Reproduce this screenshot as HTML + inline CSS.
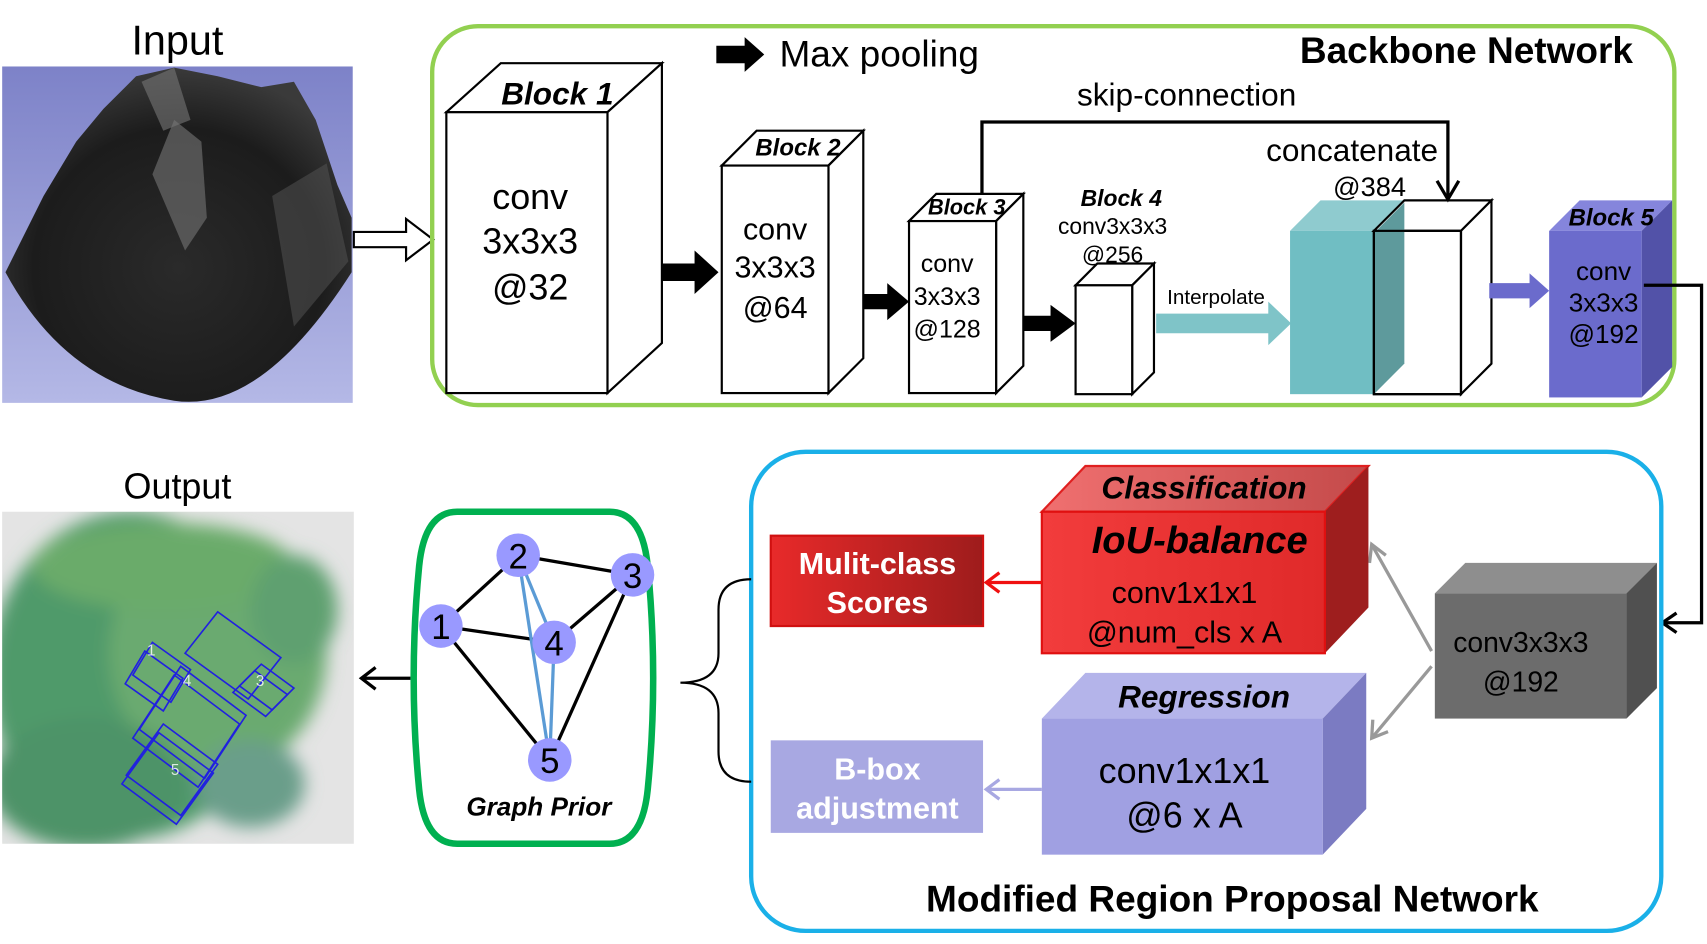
<!DOCTYPE html>
<html><head><meta charset="utf-8">
<style>html,body{margin:0;padding:0;background:#fff;}svg{display:block;}
text{font-family:"Liberation Sans",Arial,sans-serif;}</style></head>
<body>
<svg width="1707" height="944" viewBox="0 0 1568 867" xmlns="http://www.w3.org/2000/svg">
<defs>
<linearGradient id="bgin" x1="0" y1="0" x2="0" y2="1"><stop offset="0" stop-color="#7d82c8"/><stop offset="1" stop-color="#b4b8e6"/></linearGradient>
<linearGradient id="redf" x1="0" y1="0" x2="1" y2="0"><stop offset="0" stop-color="#e82a2a"/><stop offset="1" stop-color="#9e1c1c"/></linearGradient>
<linearGradient id="redtop" x1="0" y1="0" x2="1" y2="0"><stop offset="0" stop-color="#f07070"/><stop offset="1" stop-color="#c44a4a"/></linearGradient>
<linearGradient id="redfront" x1="0" y1="0" x2="1" y2="0"><stop offset="0" stop-color="#f23c3c"/><stop offset="1" stop-color="#e02a2a"/></linearGradient>
<radialGradient id="dark" cx="0.5" cy="0.6" r="0.6"><stop offset="0" stop-color="#2a2a2a"/><stop offset="0.7" stop-color="#1c1c1c"/><stop offset="1" stop-color="#3a3a3a"/></radialGradient>
<filter id="blur"><feGaussianBlur stdDeviation="8"/></filter>
<clipPath id="outclip"><rect x="2" y="470" width="323" height="305"/></clipPath>
</defs>

<!-- Input -->
<text x="163" y="50" font-size="38" text-anchor="middle">Input</text>
<rect x="2" y="61" width="322" height="309" fill="url(#bgin)"/>
<path d="M5,250 L40,180 L70,130 L95,100 L125,70 L160,62 L200,70 L240,80 L270,75 L290,110 L310,170 L323,200 L323,250 Q240,380 160,368 Q60,352 5,250 Z" fill="url(#dark)"/>
<path d="M140,160 L160,110 L185,130 L190,200 L170,230 Z" fill="#6a6a6a" opacity="0.7"/>
<path d="M130,75 L160,62 L175,110 L150,120 Z" fill="#777" opacity="0.6"/>
<path d="M250,180 L300,150 L320,240 L270,300 Z" fill="#555" opacity="0.5"/>

<!-- hollow arrow -->
<path d="M325,213 L373,213 L373,201 L398,220 L373,239 L373,227 L325,227 Z" fill="#fff" stroke="#000" stroke-width="2"/>

<!-- Backbone -->
<rect x="397" y="24" width="1141" height="348" rx="42" fill="none" stroke="#92d050" stroke-width="4"/>
<path d="M658,42 L684,42 L684,34 L702,50 L684,66 L684,58 L658,58 Z" fill="#000"/>
<text x="716" y="61" font-size="34">Max pooling</text>
<text x="1500" y="58" font-size="34" font-weight="bold" text-anchor="end">Backbone Network</text>

<g stroke="#000" stroke-width="2" fill="#fff">
<path d="M410,103 L460,58 L608,58 L558,103 Z"/><path d="M558,103 L608,58 L608,315 L558,361 Z"/><rect x="410" y="103" width="148" height="258"/>
<path d="M663,152 L695,120 L793,120 L761,152 Z"/><path d="M761,152 L793,120 L793,329 L761,361 Z"/><rect x="663" y="152" width="98" height="209"/>
<path d="M835,203 L860,178 L940,178 L915,203 Z"/><path d="M915,203 L940,178 L940,336 L915,361 Z"/><rect x="835" y="203" width="80" height="158"/>
<path d="M988,262 L1008,242 L1060,242 L1040,262 Z"/><path d="M1040,262 L1060,242 L1060,342 L1040,362 Z"/><rect x="988" y="262" width="52" height="100"/>
</g>
<text x="512" y="96" font-size="29" font-weight="bold" font-style="italic" text-anchor="middle">Block 1</text>
<g font-size="33" text-anchor="middle"><text x="487" y="192">conv</text><text x="487" y="233">3x3x3</text><text x="487" y="275">@32</text></g>
<text x="733" y="143" font-size="22" font-weight="bold" font-style="italic" text-anchor="middle">Block 2</text>
<g font-size="28" text-anchor="middle"><text x="712" y="220">conv</text><text x="712" y="255">3x3x3</text><text x="712" y="292">@64</text></g>
<text x="888" y="197" font-size="20" font-weight="bold" font-style="italic" text-anchor="middle">Block 3</text>
<g font-size="23" text-anchor="middle"><text x="870" y="250">conv</text><text x="870" y="280">3x3x3</text><text x="870" y="310">@128</text></g>
<text x="1030" y="189" font-size="21" font-weight="bold" font-style="italic" text-anchor="middle">Block 4</text>
<g font-size="21" text-anchor="middle"><text x="1022" y="215">conv3x3x3</text><text x="1022" y="241">@256</text></g>

<g fill="#000">
<path d="M608,242 L638,242 L638,230 L660,250 L638,270 L638,258 L608,258 Z"/>
<path d="M793,270 L815,270 L815,260 L835,277 L815,294 L815,284 L793,284 Z"/>
<path d="M940,290 L965,290 L965,280 L988,297 L965,314 L965,304 L940,304 Z"/>
</g>
<path d="M1062,288 L1165,288 L1165,277 L1186,297 L1165,317 L1165,306 L1062,306 Z" fill="#7fc4c8"/>
<text x="1117" y="279" font-size="19" text-anchor="middle">Interpolate</text>

<path d="M1185,212 L1213,184 L1290,184 L1262,212 Z" fill="#8fcbcf"/>
<rect x="1185" y="212" width="78" height="150" fill="#70bec3"/>
<g stroke="#000" stroke-width="2" fill="#fff">
<path d="M1262,212 L1290,184 L1370,184 L1342,212 Z"/><path d="M1342,212 L1370,184 L1370,334 L1342,362 Z"/>
<rect x="1262" y="212" width="80" height="150" fill="#fff"/>
</g>
<path d="M1263,213 L1290,186 L1290,334 L1263,361 Z" fill="#5e9a9c"/>
<rect x="1262" y="212" width="80" height="150" fill="none" stroke="#000" stroke-width="2"/>
<text x="1242" y="148" font-size="29" text-anchor="middle">concatenate</text>
<text x="1258" y="180" font-size="25" text-anchor="middle">@384</text>
<path d="M902,178 L902,112 L1330,112 L1330,183" fill="none" stroke="#000" stroke-width="3"/>
<path d="M1320,166 L1330,183 L1340,166" fill="none" stroke="#000" stroke-width="3"/>
<text x="1090" y="97" font-size="29" text-anchor="middle">skip-connection</text>

<path d="M1368,260 L1405,260 L1405,251 L1423,267 L1405,283 L1405,274 L1368,274 Z" fill="#6b6bcc"/>
<path d="M1423,212 L1451,184 L1536,184 L1508,212 Z" fill="#8585dc"/>
<path d="M1508,212 L1536,184 L1536,337 L1508,365 Z" fill="#5252a8"/>
<rect x="1423" y="212" width="85" height="153" fill="#6b6bcc"/>
<text x="1480" y="207" font-size="22" font-weight="bold" font-style="italic" text-anchor="middle">Block 5</text>
<g font-size="24" text-anchor="middle"><text x="1473" y="257">conv</text><text x="1473" y="286">3x3x3</text><text x="1473" y="315">@192</text></g>
<path d="M1510,262 L1563,262 L1563,572 L1528,572" fill="none" stroke="#000" stroke-width="3"/>
<path d="M1540,563 L1527,572 L1540,581" fill="none" stroke="#000" stroke-width="3"/>

<!-- RPN -->
<rect x="690" y="415" width="836" height="440" rx="50" fill="none" stroke="#1ab0e8" stroke-width="4"/>
<text x="1132" y="837" font-size="34" font-weight="bold" text-anchor="middle">Modified Region Proposal Network</text>

<path d="M1318,545 L1346,517 L1522,517 L1494,545 Z" fill="#8e8e8e"/>
<path d="M1494,545 L1522,517 L1522,632 L1494,660 Z" fill="#505050"/>
<rect x="1318" y="545" width="176" height="115" fill="#6c6c6c"/>
<g font-size="26" text-anchor="middle"><text x="1397" y="599">conv3x3x3</text><text x="1397" y="635">@192</text></g>
<g stroke="#999" stroke-width="3" fill="none">
<path d="M1315,598 L1260,500"/><path d="M1258,517 L1260,500 L1273,510"/>
<path d="M1315,612 L1260,678"/><path d="M1261,661 L1260,678 L1275,672"/>
</g>

<path d="M957,470 L997,428 L1257,428 L1217,470 Z" fill="url(#redtop)" stroke="#e02020" stroke-width="2"/>
<path d="M1217,470 L1257,428 L1257,558 L1217,600 Z" fill="#9e1e1e"/>
<rect x="957" y="470" width="260" height="130" fill="url(#redfront)" stroke="#e01010" stroke-width="2"/>
<text x="1106" y="458" font-size="29" font-weight="bold" font-style="italic" text-anchor="middle">Classification</text>
<text x="1102" y="508" font-size="35" font-weight="bold" font-style="italic" text-anchor="middle">IoU-balance</text>
<g font-size="28" text-anchor="middle"><text x="1088" y="554">conv1x1x1</text><text x="1088" y="590">@num_cls x A</text></g>
<rect x="708" y="492" width="195" height="83" fill="url(#redf)" stroke="#d01010" stroke-width="2"/>
<g font-size="28" font-weight="bold" fill="#fff" text-anchor="middle"><text x="806" y="527">Mulit-class</text><text x="806" y="563">Scores</text></g>
<path d="M957,535 L907,535 M918,526 L906,535 L918,544" fill="none" stroke="#f01010" stroke-width="3"/>

<path d="M957,660 L997,618 L1255,618 L1215,660 Z" fill="#b4b4ea"/>
<path d="M1215,660 L1255,618 L1255,743 L1215,785 Z" fill="#7b7bc2"/>
<rect x="957" y="660" width="258" height="125" fill="#a0a0e2"/>
<text x="1106" y="650" font-size="29" font-weight="bold" font-style="italic" text-anchor="middle">Regression</text>
<g font-size="33" text-anchor="middle"><text x="1088" y="719">conv1x1x1</text><text x="1088" y="760">@6 x A</text></g>
<rect x="708" y="680" width="195" height="85" fill="#a8a8e2"/>
<g font-size="28" font-weight="bold" fill="#fff" text-anchor="middle"><text x="806" y="716">B-box</text><text x="806" y="752">adjustment</text></g>
<path d="M957,725 L907,725 M918,716 L906,725 L918,734" fill="none" stroke="#a8a8e2" stroke-width="3"/>

<path d="M690,532 Q660,532 660,560 L660,600 Q660,627 625,627 Q660,627 660,655 L660,690 Q660,718 690,718" fill="none" stroke="#000" stroke-width="2"/>

<path d="M420,470 L560,470 Q590,470 595,520 Q605,623 595,725 Q590,775 560,775 L420,775 Q390,775 385,725 Q375,623 385,520 Q390,470 420,470 Z" fill="#fff" stroke="#00b050" stroke-width="6"/>
<g stroke="#000" stroke-width="3">
<line x1="405" y1="575" x2="476" y2="510"/><line x1="476" y1="510" x2="581" y2="528"/><line x1="581" y1="528" x2="509" y2="590"/>
<line x1="405" y1="575" x2="509" y2="590"/><line x1="405" y1="575" x2="505" y2="698"/><line x1="581" y1="528" x2="505" y2="698"/>
</g>
<g stroke="#5b9bd5" stroke-width="3">
<line x1="476" y1="510" x2="509" y2="590"/><line x1="476" y1="510" x2="505" y2="698"/><line x1="509" y1="590" x2="505" y2="698"/>
</g>
<g fill="#9999ff"><circle cx="405" cy="575" r="20"/><circle cx="476" cy="510" r="20"/><circle cx="581" cy="528" r="20"/><circle cx="509" cy="590" r="20"/><circle cx="505" cy="698" r="20"/></g>
<g font-size="32" text-anchor="middle"><text x="405" y="587">1</text><text x="476" y="522">2</text><text x="581" y="540">3</text><text x="509" y="602">4</text><text x="505" y="710">5</text></g>
<text x="495" y="749" font-size="24" font-weight="bold" font-style="italic" text-anchor="middle">Graph Prior</text>
<path d="M377,623 L332,623 M345,613 L332,623 L345,633" fill="none" stroke="#000" stroke-width="3"/>

<text x="163" y="458" font-size="33" text-anchor="middle">Output</text>
<rect x="2" y="470" width="323" height="305" fill="#e4e4e4"/>
<g clip-path="url(#outclip)">
<g filter="url(#blur)">
<ellipse cx="120" cy="620" rx="130" ry="150" fill="#4f9a6a"/>
<ellipse cx="200" cy="600" rx="100" ry="110" fill="#6aaa70"/>
<ellipse cx="80" cy="720" rx="90" ry="60" fill="#4d9368"/>
<ellipse cx="150" cy="520" rx="120" ry="40" fill="#6aab6a"/>
<ellipse cx="270" cy="560" rx="40" ry="50" fill="#5ea070"/>
<ellipse cx="230" cy="720" rx="50" ry="40" fill="#6a9e8a"/>
</g>
<g stroke="#2020e0" stroke-width="1.5" fill="none">
<path d="M122,620 L140,590 L175,615 L157,645 Z"/><path d="M115,628 L133,598 L168,623 L150,653 Z"/>
<path d="M170,600 L200,562 L258,604 L228,642 Z"/><path d="M122,678 L160,620 L220,665 L182,723 Z"/>
<path d="M128,670 L166,612 L226,657 L188,715 Z"/>
<path d="M220,630 L240,610 L270,632 L250,652 Z"/><path d="M214,636 L234,616 L264,638 L244,658 Z"/>
<path d="M116,712 L150,665 L200,702 L166,749 Z"/><path d="M112,720 L146,673 L196,710 L162,757 Z"/>
</g>
<g fill="#fff" font-size="14" opacity="0.8"><text x="135" y="602">1</text><text x="168" y="630">4</text><text x="235" y="630">3</text><text x="157" y="712">5</text></g>
</g>
</svg>
</body></html>
